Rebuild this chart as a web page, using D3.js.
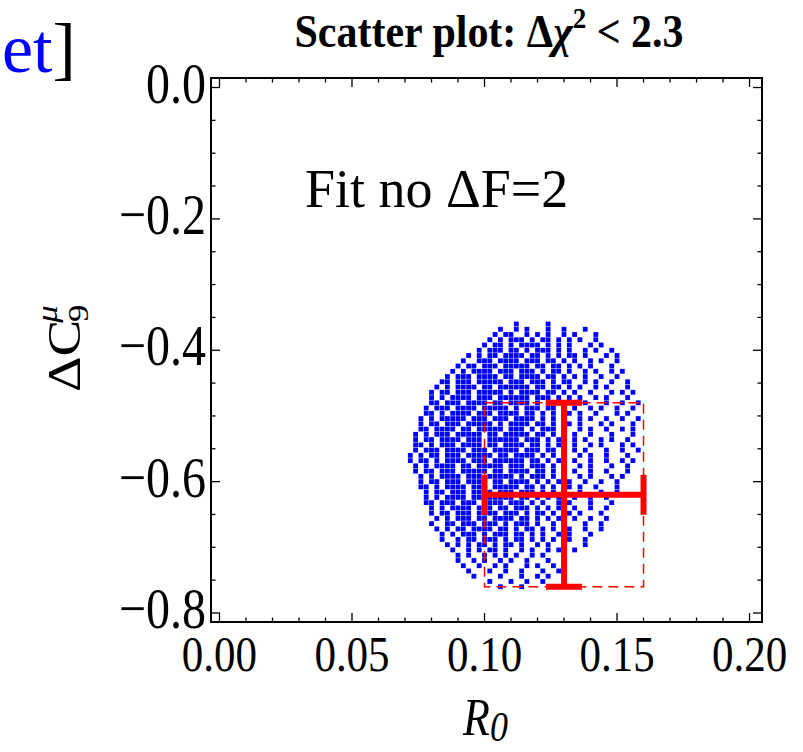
<!DOCTYPE html>
<html>
<head>
<meta charset="utf-8">
<script src="https://cdn.jsdelivr.net/npm/d3@7"></script>
<style>
  body { margin: 0; background: #fff; }
  text { font-family: "Liberation Serif", "Times New Roman", serif; }
</style>
</head>
<body>
<svg id="chart"></svg>
<script>
// tick values read from the frame
let xTicks = [0, 0.05, 0.10, 0.15, 0.20];
let yTicks = [0, -0.2, -0.4, -0.6, -0.8];

// best fit point with its errors
let fitR0 = 0.13, fitR0Err = 0.03;
let fitC9 = -0.62, fitC9Err = 0.14;

// scatter cloud read off the picture as a grid: one row per C9 step,
// one char per R0 step, '#' where a point sits
let cloudR0Start = 0.072, cloudR0Step = 0.002;
let cloudC9Start = -0.360, cloudC9Step = -0.008;
let cloudRows = [
    "....................#.....#",
    ".................#..#.#...#..#...#",
    "................#.##..#.#.#..#.#...#",
    "...............#.#.###.#.##.#.#.#..#",
    "..............#.##.#.####.#.#.#...#.#",
    ".............#.###.##.#.###.#.#..#.#..#",
    "...........#.#.##.####.##.#.#.##.#...#.#",
    "..........#..###.####.###.##.#.#..#.#..#",
    ".........#.##.###.#####.##.##.#.#.#...#.",
    "........#.#.####.###.###.#.##.#..#.#..#.#",
    ".......#.###.####.##.####.##.#.#.#..#..#",
    "......##.###.#####.###.###.#.##..#.#..#..#",
    ".....#.#.####.##.######.##.##.#.#..#.#...#",
    "....#.##.###.#####.#.####.##.#.#..#...#.#.#",
    "....#.#.####.###.######.###.#.#.#..#.#...#",
    "....##.###.####.##.####.#.###..#.#...#..#..#",
    "...#.###.####.#####.#.###.##.#.#..#.#..#..#.",
    "...##.#.####.###.####.##.#.#.##.#..#...#.#..",
    "..#.#.#####.###.###.####.#.#.#..#.#..#..#..#",
    "..#.##.###.#####.#.####.##.#.##.#...#.#...#.",
    "..##.####.##.#####.###.#.###.#..#.#..#..#.#.",
    ".#.#.###.#####.##.#####.##.#.#.#..#...#...#.",
    ".#.##.####.###.######.###.#.##.#.#..#.#..#..",
    ".##.#.###.####.##.####.##.#.#..#..#.#...#.#.",
    ".#.###.####.###.#####.###.##.#.#.#...#..#..#",
    "#.#.##.###.#####.##.####.#.#.#..#.#..#...#..",
    "#.##.#.####.###.######.##.#.##.#..#..#..#.#.",
    ".#.#.####.##.#####.###.###.#.#..#.#...#..#..",
    ".#.##.###.#####.##.####.##.#.#.#..#..#...#.",
    "..#.#.####.###.#####.#.###.#.#..#.#...#.#...",
    "..#.##.###.####.##.####.#.#.#.#..#..#..#...",
    "..##.#.####.###.#####.##.#.#..#.#..#...#...",
    "...#.##.###.####.###.###.#.#.#..#...#..#...",
    "...#.#.####.##.#####.##.#.#.#..#..#..#.....",
    "...##.###.###.####.###.#.#..#.#...#...#....",
    "....#.#.####.###.##.###.#.#.#..#..#..#.....",
    "....#.##.###.####.###.#.##.#..#.#...#......",
    ".....#.#.###.##.####.##.#.#.#..#..#..#.....",
    "....#..##.###.###.#.###.#..#.#...#..#......",
    ".....#.#.##.####.##.#.##.#.#..#..#..#......",
    "......#.#.###.#.###.##.#.#..#.#...#........",
    "......#..#.##.###.#.##.#.#.#..#..#.........",
    ".......#.#.#.##.#.##.#..#.#..#...#.........",
    "........#..#.#.##.#..#.#..#.#..#...........",
    ".........#.#..#.#.#.#..#.#...#............",
    ".........#..#.#..#.#..#...#..#.............",
    "..........#..#..#.#...#.#..#...............",
    "...........#...#..#..#...#..#..............",
    "............#....#...#..#.#................",
    "...............#...#..#..#.................",
    ".................#...#......................"
];

let cloud = [];
cloudRows.forEach((row, i) => {
    row.split("").forEach((ch, j) => {
        if (ch === "#") cloud.push({
            r0: cloudR0Start + j * cloudR0Step,
            c9: cloudC9Start + i * cloudC9Step
        });
    });
});

let width = 803, height = 752;
let plotLeft = 211, plotRight = 762, plotTop = 78, plotBottom = 622;
let stretch = 1.2;   // the original graphic is a bit taller than wide
let dot = 4.8;

let svg = d3.select("#chart")
    .attr("width", width)
    .attr("height", height);

let x = d3.scaleLinear().domain([-0.0032, 0.2047]).range([plotLeft, plotRight]);
let y = d3.scaleLinear().domain([-0.8137, 0.0145]).range([plotBottom, plotTop]);

// points
svg.append("g")
    .selectAll("rect")
    .data(cloud)
    .enter().append("rect")
    .attr("x", d => x(d.r0) - dot / 2)
    .attr("y", d => y(d.c9) - dot / 2)
    .attr("width", dot)
    .attr("height", dot)
    .attr("fill", "#0000ff");

// dashed box of the 1 sigma region
let red = "#ff0000";
svg.append("rect")
    .attr("x", x(fitR0 - fitR0Err))
    .attr("y", y(fitC9 + fitC9Err))
    .attr("width", x(fitR0 + fitR0Err) - x(fitR0 - fitR0Err))
    .attr("height", y(fitC9 - fitC9Err) - y(fitC9 + fitC9Err))
    .attr("fill", "none")
    .attr("stroke", red)
    .attr("stroke-width", 1.5)
    .attr("stroke-dasharray", "10,6");

// error bars
let bars = svg.append("g").attr("stroke", red).attr("stroke-width", 6);
bars.append("line")
    .attr("x1", x(fitR0 - fitR0Err)).attr("x2", x(fitR0 + fitR0Err))
    .attr("y1", y(fitC9)).attr("y2", y(fitC9));
bars.append("line")
    .attr("x1", x(fitR0)).attr("x2", x(fitR0))
    .attr("y1", y(fitC9 + fitC9Err)).attr("y2", y(fitC9 - fitC9Err));
[fitR0 - fitR0Err, fitR0 + fitR0Err].forEach(v => {
    bars.append("line")
        .attr("x1", x(v)).attr("x2", x(v))
        .attr("y1", y(fitC9) - 20).attr("y2", y(fitC9) + 20);
});
[fitC9 + fitC9Err, fitC9 - fitC9Err].forEach(v => {
    bars.append("line")
        .attr("x1", x(fitR0) - 18).attr("x2", x(fitR0) + 18)
        .attr("y1", y(v)).attr("y2", y(v));
});

// frame with inward ticks on all sides
let frame = svg.append("g").attr("stroke", "#000");
frame.append("rect")
    .attr("x", plotLeft).attr("y", plotTop)
    .attr("width", plotRight - plotLeft).attr("height", plotBottom - plotTop)
    .attr("fill", "none").attr("stroke-width", 2);

let xMinor = d3.range(0, 21).map(k => k / 100);
xMinor.forEach((v, k) => {
    let len = k % 5 === 0 ? 9 : 4.5;
    frame.append("line").attr("x1", x(v)).attr("x2", x(v))
        .attr("y1", plotBottom).attr("y2", plotBottom - len).attr("stroke-width", 1.3);
    frame.append("line").attr("x1", x(v)).attr("x2", x(v))
        .attr("y1", plotTop).attr("y2", plotTop + len).attr("stroke-width", 1.3);
});
let yMinor = d3.range(0, 17).map(k => -k / 20);
yMinor.forEach((v, k) => {
    let len = k % 4 === 0 ? 9 : 4.5;
    frame.append("line").attr("y1", y(v)).attr("y2", y(v))
        .attr("x1", plotLeft).attr("x2", plotLeft + len).attr("stroke-width", 1.3);
    frame.append("line").attr("y1", y(v)).attr("y2", y(v))
        .attr("x1", plotRight).attr("x2", plotRight - len).attr("stroke-width", 1.3);
});

// tick labels
svg.append("g")
    .selectAll("text")
    .data(xTicks)
    .enter().append("text")
    .attr("transform", d => `translate(${x(d)},${plotBottom + 49}) scale(1,${stretch})`)
    .attr("text-anchor", "middle")
    .attr("font-size", 43)
    .text(d => d3.format(".2f")(d));

svg.append("g")
    .selectAll("text")
    .data(yTicks)
    .enter().append("text")
    .attr("transform", d => `translate(${plotLeft - 5},${y(d) + 15}) scale(1,${stretch})`)
    .attr("text-anchor", "end")
    .attr("font-size", 48)
    .text(d => d3.format(".1f")(d));

// title
svg.append("text")
    .attr("transform", `translate(489,47) scale(1,1.1)`)
    .attr("text-anchor", "middle")
    .attr("font-size", 42)
    .attr("font-weight", "bold")
    .html('Scatter plot: \u0394<tspan font-style="italic">\u03c7</tspan><tspan font-size="27" dy="-17">2</tspan><tspan dy="17"> &lt; 2.3</tspan>');

// axis labels
svg.append("text")
    .attr("transform", `translate(463,735) scale(1,${stretch})`)
    .attr("font-size", 44)
    .attr("font-style", "italic")
    .html('R<tspan font-size="36" dy="5">0</tspan>');

svg.append("text")
    .attr("transform", `translate(80,392) rotate(-90) scale(${stretch},1)`)
    .attr("font-size", 46)
    .html('\u0394C<tspan font-size="29" dy="8" dx="-2">9</tspan><tspan font-size="29" font-style="italic" dx="-15" dy="-31">\u03bc</tspan>');

// annotation in the plot
svg.append("text")
    .attr("x", 305).attr("y", 207)
    .attr("font-size", 54)
    .text("Fit no \u0394F=2");

// cut-off text left of the chart
svg.append("text")
    .attr("x", 2).attr("y", 72)
    .attr("font-size", 70)
    .html('<tspan fill="#0000ff">et</tspan><tspan fill="#000">]</tspan>');
</script>
</body>
</html>
